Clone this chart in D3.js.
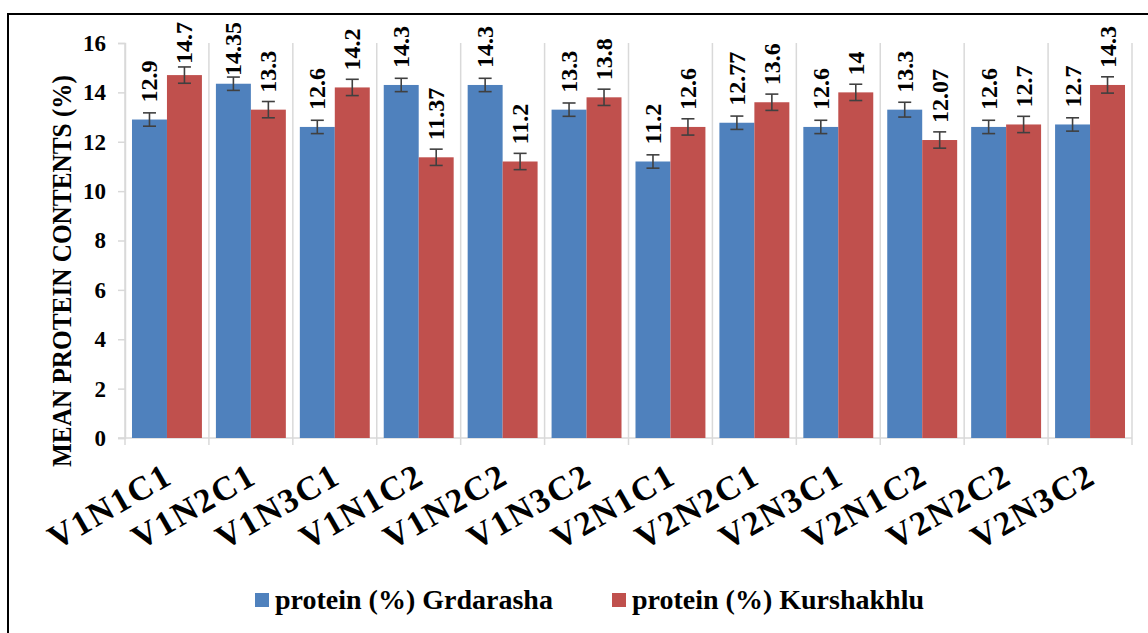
<!DOCTYPE html>
<html><head><meta charset="utf-8">
<script src="https://cdn.jsdelivr.net/npm/d3@7"></script>
<style>
body{margin:0;background:#fff}
svg text{font-family:"Liberation Serif","Tinos","Times New Roman","DejaVu Serif",serif !important;font-weight:bold;fill:#000}
</style>
</head><body>
<svg id="c" width="1148" height="633"></svg>
<script>
const categories = ["V1N1C1","V1N2C1","V1N3C1","V1N1C2","V1N2C2","V1N3C2","V2N1C1","V2N2C1","V2N3C1","V2N1C2","V2N2C2","V2N3C2"];
const grdarasha  = [12.9, 14.35, 12.6, 14.3, 14.3, 13.3, 11.2, 12.77, 12.6, 13.3, 12.6, 12.7];
const kurshakhlu = [14.7, 13.3, 14.2, 11.37, 11.2, 13.8, 12.6, 13.6, 14, 12.07, 12.7, 14.3];
const grdErr = [0.27, 0.27, 0.27, 0.27, 0.27, 0.27, 0.27, 0.27, 0.27, 0.3, 0.27, 0.27];
const kurErr = [0.33, 0.33, 0.33, 0.33, 0.33, 0.33, 0.33, 0.33, 0.33, 0.33, 0.33, 0.33];
const yTicks = [0, 2, 4, 6, 8, 10, 12, 14, 16];
const seriesNames = ["protein (%) Grdarasha", "protein (%) Kurshakhlu"];
const yTitle = "MEAN PROTEIN CONTENTS (%)";

const colors = ["#4F81BD", "#C0504D"];
const FONT = '"Liberation Serif","Tinos","Times New Roman","DejaVu Serif",serif';
const svg = d3.select("#c");

svg.append("rect").attr("x", 8).attr("y", 14).attr("width", 1160).attr("height", 640)
  .attr("fill", "none").attr("stroke", "#000").attr("stroke-width", 2);

const pL = 125, pR = 1132, pT = 43, pB = 438;
const x = d3.scaleBand().domain(categories).range([pL, pR]).paddingInner(0).paddingOuter(0);
const y = d3.scaleLinear().domain([0, 16]).range([pB, pT]);
const sub = d3.scaleBand().domain([0, 1]).range([0, x.bandwidth()]).paddingInner(0).paddingOuter(0.2);

const bounds = categories.map(c => x(c)).concat([pR]);
svg.append("g").selectAll("line").data(bounds).join("line")
  .attr("x1", d => d).attr("x2", d => d).attr("y1", pT).attr("y2", pB + 7)
  .attr("stroke", "#d9d9d9").attr("stroke-width", 1.5);

const yAxis = d3.axisLeft(y).tickValues(yTicks).tickSize(7).tickPadding(12);
const gy = svg.append("g").attr("transform", `translate(${pL},0)`).call(yAxis)
  .attr("font-family", FONT).attr("font-size", 23);
gy.select(".domain").attr("stroke", "#d9d9d9").attr("stroke-width", 1.5);
gy.selectAll(".tick line").attr("stroke", "#d9d9d9").attr("stroke-width", 1.5);
gy.selectAll(".tick text").style("font-family", FONT).style("font-size", "23px").style("font-weight", "bold").attr("fill", "#000");

svg.append("line").attr("x1", pL - 7).attr("x2", pR).attr("y1", pB).attr("y2", pB)
  .attr("stroke", "#d9d9d9").attr("stroke-width", 1.5);

const series = [grdarasha, kurshakhlu];
const errs = [grdErr, kurErr];
series.forEach((vals, si) => {
  svg.append("g").selectAll("rect").data(vals).join("rect")
    .attr("x", (d, i) => x(categories[i]) + sub(si))
    .attr("width", sub.bandwidth())
    .attr("y", d => y(d))
    .attr("height", d => y(0) - y(d))
    .attr("fill", colors[si]);
  const eg = svg.append("g").attr("stroke", "#404040").attr("stroke-width", 1.6);
  vals.forEach((d, i) => {
    const cx = x(categories[i]) + sub(si) + sub.bandwidth() / 2;
    const e = errs[si][i];
    eg.append("line").attr("x1", cx).attr("x2", cx).attr("y1", y(d + e)).attr("y2", y(d - e));
    eg.append("line").attr("x1", cx - 6.5).attr("x2", cx + 6.5).attr("y1", y(d + e)).attr("y2", y(d + e));
    eg.append("line").attr("x1", cx - 6.5).attr("x2", cx + 6.5).attr("y1", y(d - e)).attr("y2", y(d - e));
  });
  vals.forEach((d, i) => {
    const cx = x(categories[i]) + sub(si) + sub.bandwidth() / 2;
    const t = svg.append("text").text(String(d)).style("font-family", FONT).style("font-size", "24px")
      .attr("dominant-baseline", "central").attr("text-anchor", "start");
    const len = t.node().getComputedTextLength();
    const y0 = Math.max(y(d) - 17, 22 + len);
    t.attr("transform", `translate(${cx},${y0}) rotate(-90)`);
  });
});

svg.append("g").selectAll("text").data(categories).join("text")
  .text(d => d)
  .style("font-family", FONT)
  .style("letter-spacing", "2px")
  .attr("text-anchor", "end")
  .attr("dy", "0.68em")
  .style("font-size", "34px")
  .attr("transform", d => `translate(${x(d) + x.bandwidth() / 2 - 4},${pB + 24}) rotate(-30)`);

svg.append("text").text(yTitle)
  .style("font-family", FONT)
  .attr("text-anchor", "middle")
  .attr("textLength", 392).attr("lengthAdjust", "spacingAndGlyphs")
  .style("font-size", "27px")
  .attr("transform", `translate(71,271) rotate(-90)`);

const legX = [255, 612];
seriesNames.forEach((n, i) => {
  svg.append("rect").attr("x", legX[i]).attr("y", 593).attr("width", 14).attr("height", 14).attr("fill", colors[i]);
  svg.append("text").text(n).style("font-family", FONT).attr("x", legX[i] + 20).attr("y", 609).style("font-size", "28px");
});
</script>
</body></html>
